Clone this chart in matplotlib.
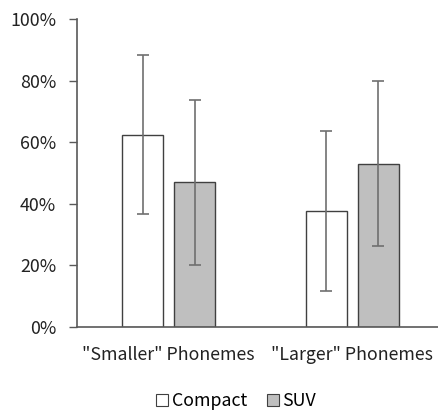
import matplotlib
matplotlib.use("Agg")
import matplotlib.pyplot as plt
import numpy as np
from matplotlib.ticker import PercentFormatter

categories = ['"Smaller" Phonemes', '"Larger" Phonemes']
series_names = ["Compact", "SUV"]
compact_vals = [62.5, 37.8]
suv_vals = [47.0, 53.1]
compact_err = [25.9, 26.0]
suv_err = [26.8, 26.7]
yticks = [0, 20, 40, 60, 80, 100]

plt.rcParams['font.family'] = ['Noto Sans CJK JP', 'DejaVu Sans']

fig = plt.figure(figsize=(4.38, 4.11), dpi=100)
W, H = 438, 411
ax = fig.add_axes([77 / W, 84 / H, 367 / W, 307.7 / H])

x = np.arange(len(categories))
bw = 0.2234
off = (bw + 0.06) / 2
edge = "#404040"
ecol = "#6f6f6f"
ax.bar(x - off, compact_vals, bw, color="white", edgecolor=edge, linewidth=1.0,
       label=series_names[0], zorder=2)
ax.bar(x + off, suv_vals, bw, color="#bfbfbf", edgecolor=edge, linewidth=1.0,
       label=series_names[1], zorder=2)
ax.errorbar(x - off, compact_vals, yerr=compact_err, fmt="none", ecolor=ecol,
            elinewidth=1.2, capsize=4.5, capthick=1.2, zorder=3)
ax.errorbar(x + off, suv_vals, yerr=suv_err, fmt="none", ecolor=ecol,
            elinewidth=1.2, capsize=4.5, capthick=1.2, zorder=3)

ax.set_xlim(-0.5, 1.5)
ax.set_ylim(0, 100)
ax.set_yticks(yticks)
ax.yaxis.set_major_formatter(PercentFormatter(decimals=0))
ax.set_xticks(x)
ax.set_xticklabels(categories)
fs = 12.8
ax.tick_params(axis="x", length=0, pad=14, labelsize=fs, colors="#222222")
ax.tick_params(axis="y", length=6, width=1, color="#595959", pad=9,
               labelsize=fs, labelcolor="#222222")
for s in ["top", "right"]:
    ax.spines[s].set_visible(False)
for s in ["left", "bottom"]:
    ax.spines[s].set_color("#595959")
    ax.spines[s].set_linewidth(1.2)

leg = fig.legend(loc="center", bbox_to_anchor=(236 / W, 1 - 401 / H), ncol=2,
                 frameon=False, fontsize=fs, handlelength=0.7, handleheight=0.7,
                 handletextpad=0.2, columnspacing=1.1)
for p in leg.get_patches():
    p.set_linewidth(0.8)
    p.set_edgecolor("#404040")

fig.savefig("out.png", dpi=100)
